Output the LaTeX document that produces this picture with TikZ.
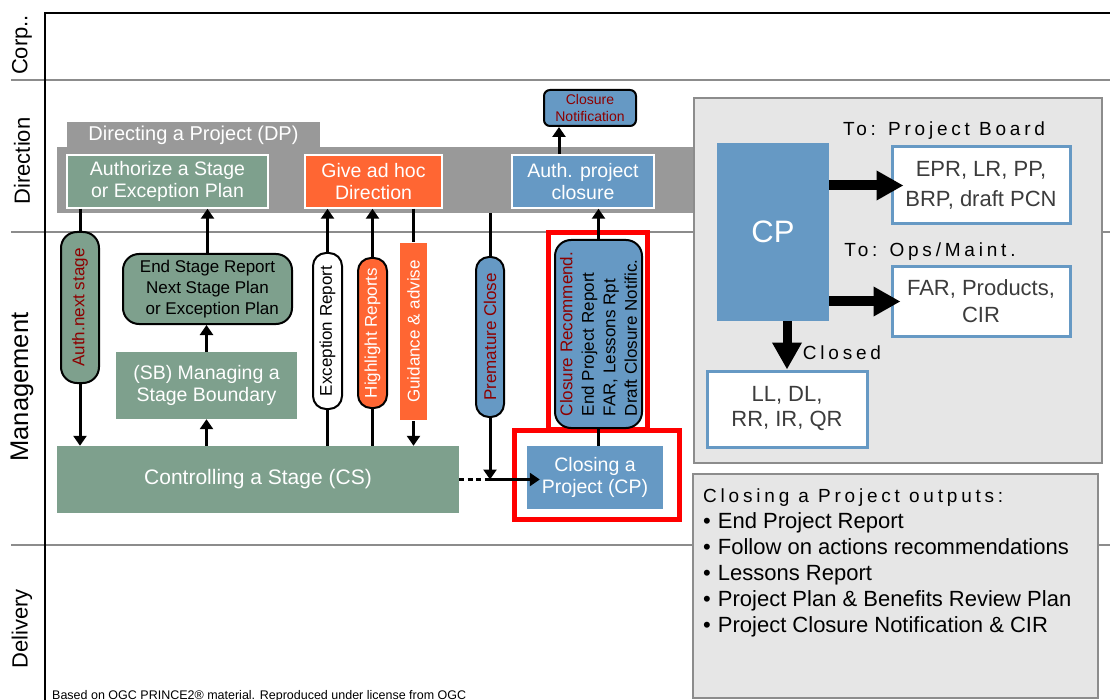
\documentclass[tikz,border=0pt]{standalone}
\usepackage{fontspec}
\setmainfont{Liberation Sans}
\newfontfamily\spacedfont[LetterSpace=20]{Liberation Sans}
\usetikzlibrary{arrows.meta, positioning}
\definecolor{stagegreen}{RGB}{126,160,141}
\definecolor{adhocorange}{RGB}{255,102,51}
\definecolor{closeblue}{RGB}{102,153,196}
\definecolor{dpgray}{RGB}{153,153,153}
\definecolor{panelgray}{RGB}{230,230,230}
\definecolor{lanegray}{RGB}{140,140,140}
\definecolor{notered}{RGB}{140,0,0}
\definecolor{boxtext}{RGB}{60,60,60}
\newcommand\outitem{\textbullet\hspace{7pt}}

\begin{document}
\begin{tikzpicture}[x=1pt, y=-1pt,
  lane/.style={lanegray, line width=1.5pt},
  frame/.style={black, line width=2.5pt},
  lanelabel/.style={rotate=90, inner sep=0pt, font=\fontsize{22}{24}\selectfont},
  dpband/.style={rectangle, fill=dpgray, inner sep=0pt},
  proc/.style={rectangle, inner sep=0pt, text=white, align=center, font=\fontsize{19.5}{21.5}\selectfont},
  dpproc/.style={proc, draw=white, line width=1.5pt},
  pill/.style={rectangle, rotate=90, draw=black, line width=2pt, inner sep=0pt, font=\fontsize{17}{21.5}\selectfont},
  product/.style={rectangle, rounded corners=16pt, draw=black, line width=2pt, inner sep=0pt, align=center, font=\fontsize{17}{20.7}\selectfont},
  redframe/.style={rectangle, draw=red, line width=5pt, inner sep=0pt},
  panel/.style={rectangle, fill=panelgray, draw=lanegray, line width=2pt, inner sep=0pt},
  outbox/.style={rectangle, fill=white, draw=closeblue, line width=3pt, inner sep=0pt, align=center, text=boxtext},
  spaced/.style={inner sep=0pt, font=\spacedfont\fontsize{19}{22}\selectfont},
  conn/.style={line width=3pt},
  arr/.style={conn, -{Triangle[length=10pt,width=13pt]}},
  bigarr/.style={line width=10pt, -{Triangle[length=27pt,width=28pt]}}]
\useasboundingbox (0,0) rectangle (1110,700);

% swim lanes
\draw[lane] (11,80) -- (1110,80);
\draw[lane] (11,232) -- (1110,232);
\draw[lane] (11,545) -- (1110,545);
\draw[frame] (45,700) -- (45,13) -- (1110,13);
\node[lanelabel] (corp) at (22,45) {Corp..};
\node[lanelabel] (dirlane) at (22,161) {Direction};
\node[lanelabel, font=\fontsize{25.5}{27}\selectfont] (mgmtlane) at (22,387) {Management};
\node[lanelabel] (dellane) at (22,629) {Delivery};

% directing a project
\node[dpband, minimum width=636pt, minimum height=66pt] (dp) at (375,180) {};
\node[dpband, minimum width=253pt, minimum height=26pt, text=white, font=\fontsize{20}{22}\selectfont] (dptab) at (193.5,135) {Directing a Project (DP)};
\node[dpproc, fill=stagegreen, minimum width=201pt, minimum height=53pt] (auth) at (167.5,181.5) {Authorize a Stage\\or Exception Plan};
\node[dpproc, fill=adhocorange, minimum width=137pt, minimum height=53pt] (adhoc) at (373.5,181.5) {Give ad hoc\\Direction};
\node[dpproc, fill=closeblue, minimum width=142pt, minimum height=53pt] (authcl) at (583,181.5) {Auth. project\\closure};
\node[rectangle, rounded corners=6pt, draw=black, line width=2pt, fill=closeblue, text=notered, align=center, inner sep=0pt, minimum width=92pt, minimum height=36pt, font=\fontsize{14}{16.5}\selectfont] (clnote) at (590,108) {Closure\\Notification};

% managing
\node[proc, fill=stagegreen, minimum width=402pt, minimum height=67pt, font=\fontsize{21}{23}\selectfont] (cs) at (258,479.5) {Controlling a Stage (CS)};
\node[proc, fill=stagegreen, minimum width=181pt, minimum height=67pt] (sb) at (206.5,385.5) {(SB) Managing a\\Stage Boundary};
\node[product, fill=stagegreen, minimum width=169pt, minimum height=70pt] (esr) at (207.5,289) {End Stage Report\\Next Stage Plan\\\ \ or Exception Plan};
\node[pill, rounded corners=16pt, fill=stagegreen, text=notered, minimum width=151pt, minimum height=38pt] (authnext) at (80,307.5) {Auth.next stage};
\node[pill, rounded corners=13pt, fill=white, minimum width=156pt, minimum height=29pt] (excrep) at (327.5,331) {Exception Report};
\node[pill, rounded corners=13pt, fill=adhocorange, text=white, minimum width=150pt, minimum height=29pt] (hlrep) at (372.5,333) {Highlight Reports};
\node[pill, draw=none, fill=adhocorange, text=white, minimum width=177pt, minimum height=27pt] (guide) at (413.5,331.5) {Guidance \& advise};
\node[pill, rounded corners=13pt, fill=closeblue, text=notered, minimum width=160pt, minimum height=28pt] (prem) at (490,337) {Premature Close};

% closing a project
\node[redframe, minimum width=99pt, minimum height=196pt] (recframe) at (597.5,331) {};
\node[redframe, minimum width=165pt, minimum height=89pt] (cpframe) at (596.5,474.5) {};
\node[pill, rounded corners=16pt, fill=closeblue, align=left, minimum width=188pt, minimum height=87pt] (clrec) at (598.5,334) {{\color{notered}Closure Recommend.}\\End Project Report\\FAR, Lessons Rpt\\Draft Closure Notific.};
\node[proc, fill=closeblue, minimum width=136pt, minimum height=63pt] (cp) at (595,477.5) {Closing a\\Project (CP)};

% flows
\coordinate (ncol) at (559,0);
\draw[conn] (auth.south -| authnext) -- (authnext);
\draw[arr] (authnext) -- (cs.north -| authnext);
\draw[arr] (esr) -- (auth.south -| esr);
\draw[arr] (sb) -- (esr.south -| sb);
\draw[arr] (cs.north -| sb) -- (sb);
\draw[conn] (cs.north -| excrep) -- (excrep);
\draw[arr] (excrep) -- (adhoc.south -| excrep);
\draw[conn] (cs.north -| hlrep) -- (hlrep);
\draw[arr] (hlrep) -- (adhoc.south -| hlrep);
\draw[conn] (adhoc.south -| guide) -- (guide);
\draw[arr] (guide) -- (cs.north -| guide);
\draw[conn] (dp.south -| prem) -- (prem);
\draw[arr] (prem) -- (cs.east -| prem);
\draw[conn, dash pattern=on 5pt off 3.5pt] (cs.east) -- (cs.east -| prem);
\draw[arr, shorten >=-13pt] (cs.east -| prem) -- (cp.west |- cs.east);
\draw[conn] (cp.north -| clrec) -- (clrec);
\draw[arr] (clrec) -- (authcl.south -| clrec);
\draw[arr] (authcl.north -| ncol) -- (clnote.south -| ncol);

% closing summary
\node[panel, minimum width=408pt, minimum height=365pt] (cppanel) at (898,280.5) {};
\node[proc, fill=closeblue, minimum width=112pt, minimum height=178pt, font=\fontsize{31}{33}\selectfont] (bigcp) at (773,232) {CP};
\node[outbox, minimum width=178pt, minimum height=77pt, font=\fontsize{22}{30}\selectfont] (epr) at (981,185.5) {EPR, LR, PP,\\BRP, draft PCN};
\node[outbox, minimum width=178pt, minimum height=69pt, font=\fontsize{22}{27}\selectfont] (far) at (981,301.5) {FAR, Products,\\CIR};
\node[outbox, minimum width=160pt, minimum height=76pt, font=\fontsize{22}{25}\selectfont] (ll) at (787,409) {LL, DL,\\RR, IR, QR};
\node[spaced] (toboard) at (944,131) {To: Project Board};
\node[spaced] (toops) at (930,252) {To: Ops/Maint.};
\node[spaced] (closed) at (842,353) {Closed};
\draw[bigarr, shorten >=-13pt] (bigcp.east |- epr.west) -- (epr.west);
\draw[bigarr, shorten >=-10pt] (bigcp.east |- far.west) -- (far.west);
\draw[bigarr, line width=9pt] (bigcp.south -| ll.north) -- (ll.north);

% outputs
\node[panel, minimum width=405pt, minimum height=224pt] (outpanel) at (895.5,586) {};
\node[anchor=north west, align=left, inner sep=0pt, font=\fontsize{22}{26}\selectfont] (outlist) at (703,489) {{\spacedfont\fontsize{19}{26}\selectfont Closing a Project outputs:}\\\outitem End Project Report\\\outitem Follow on actions recommendations\\\outitem Lessons Report\\\outitem Project Plan \& Benefits Review Plan\\\outitem Project Closure Notification \& CIR};

\node[anchor=base west, inner sep=0pt, font=\fontsize{12.5}{14}\selectfont] (credit) at (52,699) {Based on OGC PRINCE2® material. Reproduced under license from OGC};
\end{tikzpicture}
\end{document}
